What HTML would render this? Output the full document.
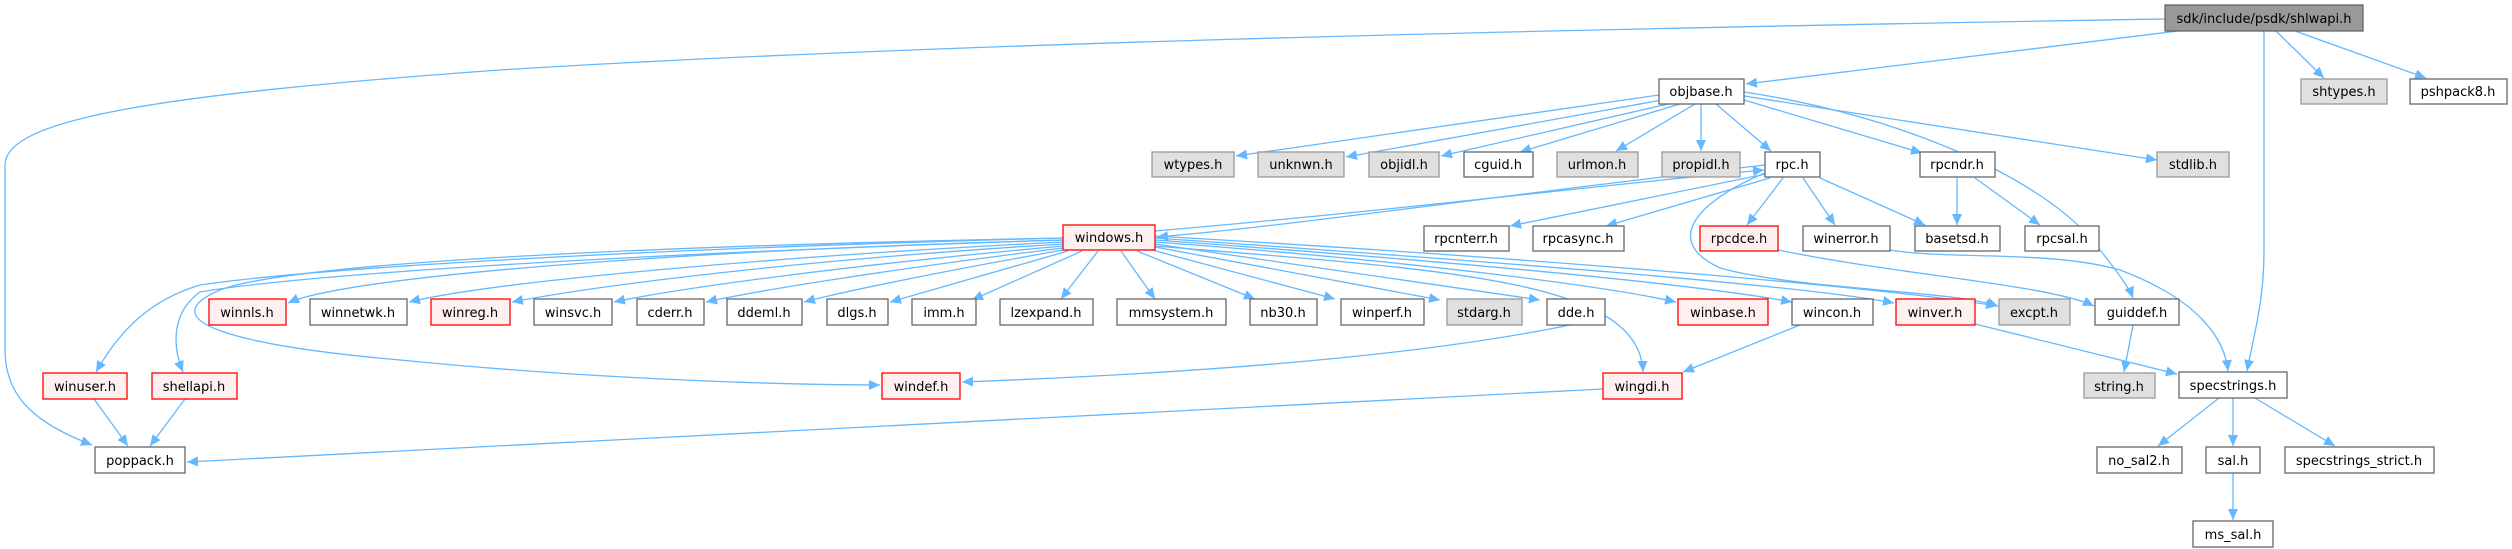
<!DOCTYPE html>
<html><head><meta charset="utf-8"><style>
html,body{margin:0;padding:0;background:#fff;}
svg{display:block;}
text{font-family:"DejaVu Sans","Liberation Sans",sans-serif;font-size:13px;fill:#000;text-anchor:middle;}
.e{fill:none;stroke:#63b8ff;stroke-width:1.3;marker-end:url(#a);}
.n{fill:#fff;stroke:#666;stroke-width:1.3;}
.r{fill:#fff0f0;stroke:#ff0000;stroke-width:1.3;}
.g{fill:#e0e0e0;stroke:#999;stroke-width:1.3;}
.root{fill:#999;stroke:#666;stroke-width:1.3;}
</style></head><body>
<svg width="2512" height="549" viewBox="0 0 2512 549" xmlns="http://www.w3.org/2000/svg">
<defs><marker id="a" markerUnits="userSpaceOnUse" markerWidth="12" markerHeight="10" refX="11" refY="5" orient="auto"><path d="M0,0 L11,5 L0,10 z" fill="#63b8ff"/></marker></defs>
<g>
<path class="e" d="M2165,19 C1500,30 900,45 500,70 C150,95 5,120 5,165 L5,350 C5,400 40,425 92,445"/>
<path class="e" d="M2178,31 L1746,84"/>
<path class="e" d="M2264,31 L2264,250 C2264,300 2255,330 2247,371"/>
<path class="e" d="M2276,31 L2324,78"/>
<path class="e" d="M2295,31 L2426,78"/>
<path class="e" d="M1659,95 L1236,156"/>
<path class="e" d="M1662,100 L1346,157"/>
<path class="e" d="M1668,104 L1441,156"/>
<path class="e" d="M1680,104 L1520,152"/>
<path class="e" d="M1695,104 L1616,151"/>
<path class="e" d="M1701,104 L1701,151"/>
<path class="e" d="M1716,104 L1771,151"/>
<path class="e" d="M1744,100 L1922,153"/>
<path class="e" d="M1744,96 L2157,160"/>
<path class="e" d="M1744,92 C1900,115 2050,180 2100,250 C2120,275 2130,290 2133,298"/>
<path class="e" d="M1765,165 C1500,195 1300,225 1157,237"/>
<path class="e" d="M1155,231 C1400,210 1600,185 1764,170"/>
<path class="e" d="M1766,174 L1510,226"/>
<path class="e" d="M1770,178 L1606,226"/>
<path class="e" d="M1783,178 L1747,225"/>
<path class="e" d="M1803,178 L1835,225"/>
<path class="e" d="M1820,178 L1925,225"/>
<path class="e" d="M1765,173 C1700,200 1660,240 1720,268 C1800,290 1950,290 1998,306"/>
<path class="e" d="M1957,178 L1957,225"/>
<path class="e" d="M1975,178 L2040,225"/>
<path class="e" d="M1778,250 C1900,275 2050,285 2094,306"/>
<path class="e" d="M1890,250 C1950,260 2050,250 2120,270 C2200,300 2225,340 2228,371"/>
<path class="e" d="M1975,324 L2177,374"/>
<path class="e" d="M2133,325 L2124,372"/>
<path class="e" d="M1800,325 L1683,372"/>
<path class="e" d="M1570,325 C1400,360 1150,375 962,382"/>
<path class="e" d="M1603,389 L187,462"/>
<path class="e" d="M94,399 L128,446"/>
<path class="e" d="M185,399 L150,446"/>
<path class="e" d="M2219,398 L2158,446"/>
<path class="e" d="M2233,398 L2233,446"/>
<path class="e" d="M2255,398 L2335,446"/>
<path class="e" d="M2233,473 L2233,520"/>
<path class="e" d="M1063,240 C700,250 350,275 288,303"/>
<path class="e" d="M1063,242 C800,255 500,280 409,302"/>
<path class="e" d="M1063,244 C800,260 600,285 512,302"/>
<path class="e" d="M1063,246 C850,265 680,288 614,302"/>
<path class="e" d="M1063,248 C900,268 760,290 706,302"/>
<path class="e" d="M1063,250 C950,270 850,290 804,302"/>
<path class="e" d="M1068,251 L890,302"/>
<path class="e" d="M1082,251 L972,300"/>
<path class="e" d="M1098,251 L1061,299"/>
<path class="e" d="M1121,251 L1155,299"/>
<path class="e" d="M1137,251 L1255,299"/>
<path class="e" d="M1152,250 L1335,299"/>
<path class="e" d="M1155,247 L1440,300"/>
<path class="e" d="M1155,244 L1540,300"/>
<path class="e" d="M1155,242 C1400,260 1600,285 1676,302"/>
<path class="e" d="M1155,240 C1500,265 1700,285 1792,302"/>
<path class="e" d="M1155,238 C1500,262 1800,285 1894,303"/>
<path class="e" d="M1155,236 C1600,262 1900,290 1997,306"/>
<path class="e" d="M1155,246 C1450,270 1640,280 1643,372"/>
<path class="e" d="M1063,238 C600,250 300,270 200,285 C150,300 120,330 96,372"/>
<path class="e" d="M1063,240 C600,255 300,275 200,292 C175,310 170,340 183,372"/>
<path class="e" d="M1063,238 C700,245 300,260 220,290 C150,320 230,345 400,360 C600,380 800,385 880,385"/>
</g>
<g>
<rect class="root" x="2165" y="5" width="198" height="26"/><text x="2264" y="23">sdk/include/psdk/shlwapi.h</text>
<rect class="n" x="1659" y="79" width="85" height="25"/><text x="1701" y="96">objbase.h</text>
<rect class="g" x="2301" y="79" width="86" height="25"/><text x="2344" y="96">shtypes.h</text>
<rect class="n" x="2410" y="79" width="97" height="25"/><text x="2458" y="96">pshpack8.h</text>
<rect class="g" x="1152" y="152" width="82" height="25"/><text x="1193" y="169">wtypes.h</text>
<rect class="g" x="1258" y="152" width="86" height="25"/><text x="1301" y="169">unknwn.h</text>
<rect class="g" x="1369" y="152" width="70" height="25"/><text x="1404" y="169">objidl.h</text>
<rect class="n" x="1464" y="152" width="69" height="25"/><text x="1498" y="169">cguid.h</text>
<rect class="g" x="1557" y="152" width="81" height="25"/><text x="1597" y="169">urlmon.h</text>
<rect class="g" x="1662" y="152" width="78" height="25"/><text x="1701" y="169">propidl.h</text>
<rect class="n" x="1765" y="152" width="55" height="25"/><text x="1792" y="169">rpc.h</text>
<rect class="n" x="1920" y="152" width="75" height="25"/><text x="1957" y="169">rpcndr.h</text>
<rect class="g" x="2157" y="152" width="72" height="25"/><text x="2193" y="169">stdlib.h</text>
<rect class="r" x="1063" y="225" width="92" height="25"/><text x="1109" y="242">windows.h</text>
<rect class="n" x="1424" y="226" width="85" height="25"/><text x="1466" y="243">rpcnterr.h</text>
<rect class="n" x="1533" y="226" width="91" height="25"/><text x="1578" y="243">rpcasync.h</text>
<rect class="r" x="1700" y="226" width="78" height="25"/><text x="1739" y="243">rpcdce.h</text>
<rect class="n" x="1803" y="226" width="87" height="25"/><text x="1846" y="243">winerror.h</text>
<rect class="n" x="1915" y="226" width="85" height="25"/><text x="1957" y="243">basetsd.h</text>
<rect class="n" x="2025" y="226" width="74" height="25"/><text x="2062" y="243">rpcsal.h</text>
<rect class="r" x="209" y="299" width="77" height="26"/><text x="247" y="317">winnls.h</text>
<rect class="n" x="310" y="299" width="97" height="26"/><text x="358" y="317">winnetwk.h</text>
<rect class="r" x="431" y="299" width="79" height="26"/><text x="470" y="317">winreg.h</text>
<rect class="n" x="534" y="299" width="78" height="26"/><text x="573" y="317">winsvc.h</text>
<rect class="n" x="637" y="299" width="67" height="26"/><text x="670" y="317">cderr.h</text>
<rect class="n" x="727" y="299" width="75" height="26"/><text x="764" y="317">ddeml.h</text>
<rect class="n" x="827" y="299" width="61" height="26"/><text x="857" y="317">dlgs.h</text>
<rect class="n" x="912" y="299" width="64" height="26"/><text x="944" y="317">imm.h</text>
<rect class="n" x="1000" y="299" width="93" height="26"/><text x="1046" y="317">lzexpand.h</text>
<rect class="n" x="1117" y="299" width="109" height="26"/><text x="1171" y="317">mmsystem.h</text>
<rect class="n" x="1250" y="299" width="67" height="26"/><text x="1283" y="317">nb30.h</text>
<rect class="n" x="1341" y="299" width="83" height="26"/><text x="1382" y="317">winperf.h</text>
<rect class="g" x="1447" y="299" width="75" height="26"/><text x="1484" y="317">stdarg.h</text>
<rect class="n" x="1547" y="299" width="58" height="26"/><text x="1576" y="317">dde.h</text>
<rect class="r" x="1678" y="299" width="90" height="26"/><text x="1723" y="317">winbase.h</text>
<rect class="n" x="1792" y="299" width="81" height="26"/><text x="1832" y="317">wincon.h</text>
<rect class="r" x="1896" y="299" width="79" height="26"/><text x="1935" y="317">winver.h</text>
<rect class="g" x="1999" y="299" width="71" height="26"/><text x="2034" y="317">excpt.h</text>
<rect class="n" x="2095" y="299" width="84" height="26"/><text x="2137" y="317">guiddef.h</text>
<rect class="r" x="43" y="373" width="84" height="26"/><text x="85" y="391">winuser.h</text>
<rect class="r" x="152" y="373" width="85" height="26"/><text x="194" y="391">shellapi.h</text>
<rect class="r" x="882" y="373" width="78" height="26"/><text x="921" y="391">windef.h</text>
<rect class="r" x="1603" y="373" width="79" height="26"/><text x="1642" y="391">wingdi.h</text>
<rect class="g" x="2084" y="373" width="71" height="25"/><text x="2119" y="391">string.h</text>
<rect class="n" x="2179" y="372" width="108" height="26"/><text x="2233" y="390">specstrings.h</text>
<rect class="n" x="95" y="447" width="90" height="26"/><text x="140" y="465">poppack.h</text>
<rect class="n" x="2097" y="447" width="85" height="26"/><text x="2139" y="465">no_sal2.h</text>
<rect class="n" x="2206" y="447" width="54" height="26"/><text x="2233" y="465">sal.h</text>
<rect class="n" x="2285" y="447" width="149" height="26"/><text x="2359" y="465">specstrings_strict.h</text>
<rect class="n" x="2193" y="521" width="80" height="26"/><text x="2233" y="539">ms_sal.h</text>
</g>
</svg>
</body></html>
